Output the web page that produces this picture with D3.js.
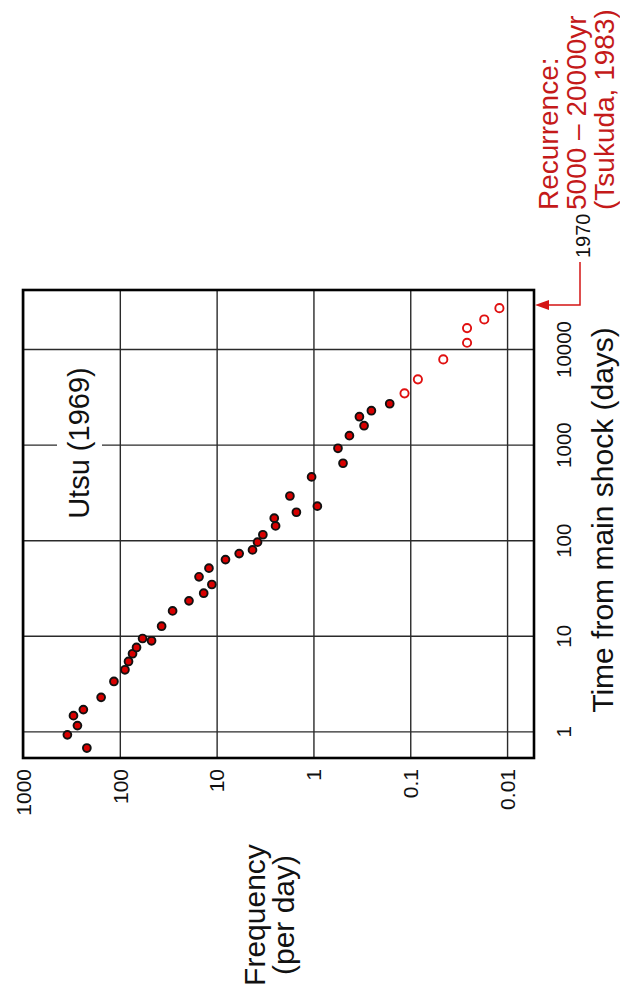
<!DOCTYPE html>
<html>
<head>
<meta charset="utf-8">
<script src="https://cdn.jsdelivr.net/npm/d3@7"></script>
<style>
  html, body { margin: 0; padding: 0; background: #fff; }
  svg { display: block; font-family: "Liberation Sans", Arial, Helvetica, sans-serif; }
</style>
</head>
<body>
<div id="chart"></div>
<script>
// ---- Data (Nobi 1891 aftershocks, Utsu 1969) ----
const filledTime = [0.92, 1.46, 1.15, 1.69, 0.67, 2.27, 3.33, 4.41, 5.39, 6.49, 7.55, 9.37, 8.87, 12.6, 18.2, 23.2, 41.4, 27.9, 51, 34.4, 62.7, 72.4, 79.2, 95.3, 114, 170, 141, 290, 196, 459, 227, 915, 638, 1239, 1957, 1576, 2261, 2675];
const filledFreq = [348, 301, 274, 238, 219, 156, 115, 88.5, 81.3, 73.9, 67.2, 58.2, 47, 37, 28.5, 19.3, 15.2, 13.6, 12.0, 11.2, 8.1, 5.85, 4.26, 3.78, 3.33, 2.54, 2.46, 1.75, 1.50, 1.045, 0.911, 0.558, 0.495, 0.425, 0.335, 0.300, 0.252, 0.163];
const openTime = [3436, 4812, 7785, 11610, 16540, 20380, 26750];
const openFreq = [0.1146, 0.0834, 0.0456, 0.0259, 0.0259, 0.0172, 0.0120];

const freqTicks = [1000, 100, 10, 1, 0.1, 0.01];
const freqTickLabels = ["1000", "100", "10", "1", "0.1", "0.01"];
const timeTicks = [1, 10, 100, 1000, 10000];
const timeTickLabels = ["1", "10", "100", "1000", "10000"];

const freqDomain = [1000, 0.00527];
const timeDomain = [0.527, 41400];
const marker1970 = 28850;   // days from 1891 main shock to 1970
const marker1970Label = "1970";
const sourceLabel = "Utsu (1969)";
const recurrenceLines = ["Recurrence:", "5000 \u2013 20000yr", "(Tsukuda, 1983)"];
const freqTitle = ["Frequency", "(per day)"];
const timeTitle = "Time from main shock (days)";

// ---- Layout ----
const W = 620, H = 990;
const red = "#d41515";

const svg = d3.select("#chart").append("svg").attr("width", W).attr("height", H);

const x = d3.scaleLog().domain(freqDomain).range([23, 534]);
const y = d3.scaleLog().domain(timeDomain).range([758, 290]);

const [x0, x1] = x.range();
const [yb, yt] = y.range();

// grid lines + tick labels
const gridFreq = svg.append("g")
  .attr("transform", `translate(0,${yb})`)
  .call(d3.axisBottom(x).tickValues(freqTicks).tickSize(-(yb - yt)).tickFormat((d, i) => freqTickLabels[i]));
gridFreq.select(".domain").remove();
gridFreq.selectAll(".tick line").attr("stroke", "#2a2a2a").attr("stroke-width", 1.4);
gridFreq.selectAll(".tick text")
  .attr("transform", "rotate(-90)")
  .attr("x", -11).attr("y", 0).attr("dy", "0.35em")
  .attr("text-anchor", "end")
  .style("font-size", "21px").attr("fill", "#111")
  .style("font-family", "'Liberation Sans', Arial, sans-serif");

const gridTime = svg.append("g")
  .attr("transform", `translate(${x1},0)`)
  .call(d3.axisLeft(y).tickValues(timeTicks).tickSize(x1 - x0).tickFormat((d, i) => timeTickLabels[i]));
gridTime.select(".domain").remove();
gridTime.selectAll(".tick line").attr("stroke", "#2a2a2a").attr("stroke-width", 1.4);
gridTime.selectAll(".tick text")
  .attr("transform", "rotate(-90)")
  .attr("x", 0).attr("y", 37).attr("dy", 0)
  .attr("text-anchor", "middle")
  .style("font-size", "20.5px").attr("fill", "#111")
  .style("font-family", "'Liberation Sans', Arial, sans-serif");

// Utsu label with white background
const utsuG = svg.append("g")
  .attr("transform", `translate(89,${y(1000) - 1.5}) rotate(-90)`);
const utsuRect = utsuG.append("rect").attr("fill", "#fff");
const utsuText = utsuG.append("text")
  .attr("text-anchor", "middle")
  .style("font-size", "29px")
  .attr("fill", "#111")
  .text(sourceLabel);
const bb = utsuText.node().getBBox();
utsuRect.attr("x", bb.x - 6).attr("y", bb.y - 6).attr("width", bb.width + 12).attr("height", bb.height + 13);

// frame
svg.append("rect")
  .attr("x", x0).attr("y", yt)
  .attr("width", x1 - x0).attr("height", yb - yt)
  .attr("fill", "none").attr("stroke", "#000").attr("stroke-width", 2.6);

// points
const filled = filledTime.map((t, i) => ({ t, f: filledFreq[i] }));
const open = openTime.map((t, i) => ({ t, f: openFreq[i] }));

svg.append("g").selectAll("circle").data(filled).join("circle")
  .attr("cx", d => x(d.f)).attr("cy", d => y(d.t)).attr("r", 3.9)
  .attr("fill", "#d80000").attr("stroke", "#111").attr("stroke-width", 1.9);

svg.append("g").selectAll("circle").data(open).join("circle")
  .attr("cx", d => x(d.f)).attr("cy", d => y(d.t)).attr("r", 4.1)
  .attr("fill", "#fff").attr("stroke", "#e01010").attr("stroke-width", 1.9);

// 1970 marker
const ym = y(marker1970);
svg.append("path")
  .attr("d", `M580,262 V${ym} H${x1 + 12}`)
  .attr("fill", "none").attr("stroke", red).attr("stroke-width", 1.5);
svg.append("path")
  .attr("d", `M${x1 + 1},${ym} L${x1 + 15},${ym - 5} L${x1 + 15},${ym + 5} Z`)
  .attr("fill", red);
svg.append("text")
  .attr("transform", `translate(590,258) rotate(-90)`)
  .attr("text-anchor", "start")
  .style("font-size", "20px")
  .attr("fill", "#111")
  .text(marker1970Label);

// recurrence annotation
const recG = svg.append("g").attr("transform", "translate(558,210) rotate(-90)");
recG.selectAll("text").data(recurrenceLines).join("text")
  .attr("x", 0).attr("y", (d, i) => i * 28)
  .attr("text-anchor", "start")
  .style("font-size", "28px")
  .attr("fill", "#c41a1a")
  .text(d => d);

// axis titles
svg.append("text")
  .attr("transform", `translate(613,${(yt + yb) / 2 - 4}) rotate(-90)`)
  .attr("text-anchor", "middle")
  .style("font-size", "30px")
  .attr("fill", "#111")
  .text(timeTitle);

const fG = svg.append("g").attr("transform", "translate(265,915) rotate(-90)");
fG.selectAll("text").data(freqTitle).join("text")
  .attr("x", 0).attr("y", (d, i) => i * 29)
  .attr("text-anchor", "middle")
  .style("font-size", "30px")
  .attr("fill", "#111")
  .text(d => d);
</script>
</body>
</html>
